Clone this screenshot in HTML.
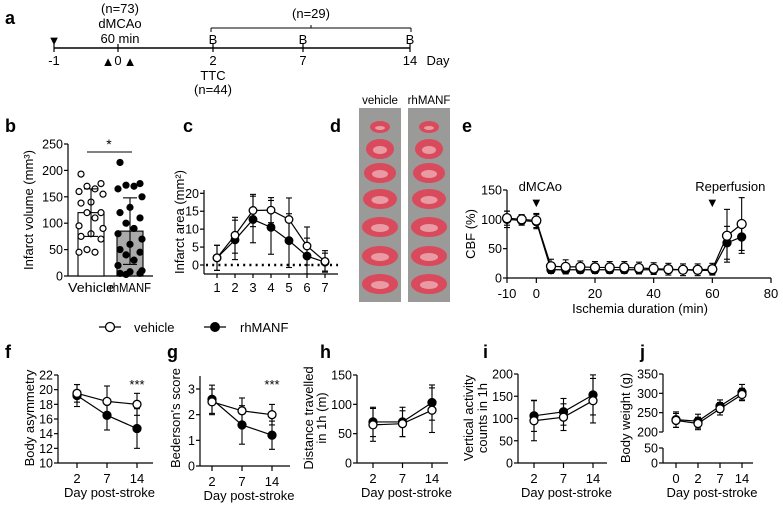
<!DOCTYPE html>
<html><head><meta charset="utf-8"><style>
html,body{margin:0;padding:0;background:#fff}
svg{display:block;font-family:"Liberation Sans",Arial,sans-serif}
</style></head><body>
<svg id="fig" width="783" height="507" viewBox="0 0 783 507" xmlns="http://www.w3.org/2000/svg"></svg>
<script>
// ---------- data ----------
const bCats = ["Vehicle","rhMANF"];
const bMeans = [120, 85];
const bSD = [45, 63];
const bVehPts = [193,175,170,165,160,155,140,138,120,120,110,95,90,80,75,70,50,45,45];
const bRhPts = [215,175,172,170,165,150,130,120,110,100,90,80,70,60,50,45,40,30,20,10,8,5,5,3];

const cCats = [1,2,3,4,5,6,7];
const cVeh = [2,8.3,15.2,15.3,12.7,5.3,1];
const cVehErr = [3.5,5,4.5,3.5,6,5.3,3];
const cRh = [2,7,12.7,10.5,6.8,2.5,0.8];
const cRhErr = [3.5,5.5,6.5,7.5,7.5,5,2.5];
const cTicks = [0,5,10,15,20];

const eTimes = [-10,-5,0,5,10,15,20,25,30,35,40,45,50,55,60,65,70];
const eVeh = [102,100,98,20,19,19,18,18,18,17,16,15,14,14,15,72,92];
const eVehErr = [12,8,12,12,12,10,10,10,10,10,10,10,10,10,10,45,45];
const eRh = [100,98,96,14,14,14,14,14,14,14,14,14,14,13,13,60,70];
const eRhErr = [14,8,12,6,6,6,6,6,6,6,6,6,6,6,6,28,28];
const eTicks = [-10,0,20,40,60,80];
const eYTicks = [0,50,100,150];

const dayCats = ["2","7","14"];
const fVeh = [19.5,18.4,18.0], fVehErr=[1.2,2.1,1.5];
const fRh = [19.2,16.5,14.7], fRhErr=[1.5,2.0,2.7];
const fTicks = [10,12,14,16,18,20,22];
const gVeh = [2.5,2.15,2.0], gVehErr=[0.5,0.5,0.4];
const gRh = [2.6,1.6,1.2], gRhErr=[0.55,0.75,0.55];
const gTicks = [0,1,2,3];
const hVeh = [65,67,90], hVehErr=[28,22,38];
const hRh = [70,70,103], hRhErr=[25,25,30];
const hTicks = [0,50,100,150];
const iVeh = [95,103,140], iVehErr=[45,30,50];
const iRh = [106,115,153], iRhErr=[35,30,45];
const iTicks = [0,50,100,150,200];
const jCats = ["0","2","7","14"];
const jVeh = [230,222,260,297], jVehErr=[18,16,16,16];
const jRh = [232,228,267,303], jRhErr=[20,18,16,20];
const jTicksUp = [200,250,300,350];
const jTicksLow = [0,50];

// ---------- helpers ----------
const S = document.getElementById('fig');
const NS = 'http://www.w3.org/2000/svg';
function el(tag, attrs, parent){
  const e = document.createElementNS(NS, tag);
  for (const k in attrs) e.setAttribute(k, attrs[k]);
  (parent||S).appendChild(e); return e;
}
function grp(name){
  const g = el('g', {});
  
  
  return g;
}
function ln(g,x1,y1,x2,y2,w,extra){ return el('line',Object.assign({x1,y1,x2,y2,stroke:'#000','stroke-width':w||1.2},extra||{}),g); }
function tx(g,x,y,s,o){
  o=o||{};
  const t = el('text',{x,y,'font-size':o.fs||13,'text-anchor':o.anchor||'middle','font-weight':o.bold?'bold':'normal',fill:'#000'},g);
  if(o.len){ t.setAttribute('textLength',o.len); t.setAttribute('lengthAdjust','spacingAndGlyphs'); }
  if(o.rot) t.setAttribute('transform','rotate(-90 '+x+' '+y+')');
  t.textContent = s; return t;
}
function lin(d0,d1,r0,r1){ return v => r0 + (v-d0)/(d1-d0)*(r1-r0); }
function label(ch,x,y){
  const g = grp('panel-label-'+ch);
  tx(g,x,y,ch,{fs:18,bold:true,anchor:'start'});
}
function errbar(g,x,y0,y1,cap){ ln(g,x,y0,x,y1,1.1); ln(g,x-cap,y0,x+cap,y0,1.1); ln(g,x-cap,y1,x+cap,y1,1.1); }
function series(g,xs,vals,errs,sy,filled,name,r,cap){
  const sg = el('g',{},g);
  
  
  for(let i=0;i<vals.length;i++) errbar(sg,xs[i],sy(vals[i]-errs[i]),sy(vals[i]+errs[i]),cap||3);
  let d='';
  for(let i=0;i<vals.length;i++) d+=(i?'L':'M')+xs[i]+' '+sy(vals[i]);
  el('path',{d,fill:'none',stroke:'#000','stroke-width':1.2},sg);
  for(let i=0;i<vals.length;i++){
    const c = el('circle',{cx:xs[i],cy:sy(vals[i]),r:r||4,fill:filled?'#000':'#fff',stroke:'#000','stroke-width':1.3},sg);
    
    
  }
}
function yaxis(g,x,sy,ticks,top,bottom,fmt){
  ln(g,x,top,x,bottom,1.2);
  ticks.forEach(t=>{ const y=sy(t); ln(g,x-4,y,x,y,1.2); tx(g,x-5,y+4.5,fmt?fmt(t):String(t),{anchor:'end',fs:12.5}); });
}

// ---------- panel a ----------
(function(){
  label('a',5,24);
  const g = grp('timeline');
  const days=[-1,0,2,7,14], px=[54,118,213,303,410];
  ln(g,54,48,410,48,1.4);
  days.forEach((d,i)=>{ ln(g,px[i],44,px[i],52,1.2); tx(g,px[i],65,String(d)); });
  tx(g,438,65,'Day');
  tx(g,54,45,'▼',{fs:13});
  tx(g,108,66,'▲',{fs:13}); tx(g,130,66,'▲',{fs:13});
  tx(g,120,13,'(n=73)'); tx(g,120,28,'dMCAo'); tx(g,120,43,'60 min');
  [213,303,410].forEach(x=>tx(g,x,44,'B'));
  tx(g,213,80,'TTC'); tx(g,213,94,'(n=44)');
  ln(g,211,28,411,28,1); ln(g,211,28,211,32,1); ln(g,411,28,411,32,1); ln(g,311,25,311,28,1);
  tx(g,311,18,'(n=29)');
})();

// ---------- panel b ----------
(function(){
  label('b',5,132);
  const g = grp('infarct-volume-chart');
  const sy = lin(0,250,276,144);
  yaxis(g,68,sy,[0,50,100,150,200,250],144,276);
  ln(g,68,276,153,276,1.2);
  const cx=[91,130], bw=26, lens=[46,42];
  const fills=['#fff','#aaa'];
  bCats.forEach((c,i)=>{
    const r = el('rect',{x:cx[i]-bw/2,y:sy(bMeans[i]),width:bw,height:276-sy(bMeans[i]),fill:fills[i],stroke:'#000','stroke-width':1.1},g);
    
    
    tx(g,cx[i],292,c,{len:lens[i]});
  });
  const pts=[bVehPts,bRhPts], offs=[-10,10,-4,4,-12,12,0];
  pts.forEach((arr,k)=>{
    arr.forEach((v,i)=>{
      const c=el('circle',{cx:cx[k]+offs[i%offs.length],cy:sy(v),r:3,fill:k?'#000':'#fff',stroke:'#000','stroke-width':1.2},g);
      
      
    });
  });
  bCats.forEach((c,i)=>errbar(g,cx[i],sy(bMeans[i]-bSD[i]),sy(bMeans[i]+bSD[i]),7));
  ln(g,87,152,132,152,1.1); tx(g,109,149,'*',{fs:14});
  tx(g,33,210,'Infarct volume (mm³)',{rot:true});
})();

// ---------- panel c ----------
(function(){
  label('c',183,132);
  const g = grp('infarct-area-chart');
  const sy = lin(0,20,265,193.3);
  const sx = lin(1,7,217,325);
  yaxis(g,204,sy,cTicks,190,274);
  ln(g,204,274,338,274,1.2);
  cCats.forEach(c=>{ ln(g,sx(c),274,sx(c),278,1.2); tx(g,sx(c),292,String(c)); });
  ln(g,206,265,338,265,2.4,{'stroke-dasharray':'2 4.2'});
  const xs = cCats.map(sx);
  series(g,xs,cRh,cRhErr,sy,true,'rhmanf-series',3.8);
  series(g,xs,cVeh,cVehErr,sy,false,'vehicle-series',3.8);
  tx(g,184,222,'Infarct area (mm²)',{rot:true});
})();

// ---------- panel d ----------
(function(){
  label('d',330,132);
  const g = grp('ttc-brain-slices');
  tx(g,380,104,'vehicle',{fs:11.5}); tx(g,429,104,'rhMANF',{fs:11.5});
  const cols=[[359,42],[408,42]];
  cols.forEach(([x,w])=>{
    el('rect',{x,y:108,width:w,height:194,fill:'#9a9a98'},g);
    const ys=[127,149,173,199,227,256,284], ws=[20,28,32,34,36,36,36];
    ys.forEach((y,i)=>{
      el('ellipse',{cx:x+w/2,cy:y,rx:ws[i]/2,ry:i?10:6,fill:'#d94a5c'},g);
      el('ellipse',{cx:x+w/2,cy:y+1,rx:ws[i]/4,ry:i?4:2,fill:'#e99aa2'},g);
    });
  });
})();

// ---------- panel e ----------
(function(){
  label('e',462,132);
  const g = grp('cbf-chart');
  const sy = lin(0,150,278,190);
  const sx = lin(-10,80,507,771);
  yaxis(g,507,sy,eYTicks,190,278);
  ln(g,507,278,771,278,1.2);
  eTicks.forEach(t=>{ ln(g,sx(t),278,sx(t),283,1.2); tx(g,sx(t),298,String(t)); });
  const xs=eTimes.map(sx);
  series(g,xs,eRh,eRhErr,sy,true,'rhmanf-series',4);
  series(g,xs,eVeh,eVehErr,sy,false,'vehicle-series',4.5);
  tx(g,640,313,'Ischemia duration (min)');
  tx(g,475,234,'CBF (%)',{rot:true});
  tx(g,sx(0)+4,191,'dMCAo'); tx(g,sx(0),207,'▼',{fs:13});
  tx(g,sx(60)+18,191,'Reperfusion'); tx(g,sx(60),207,'▼',{fs:13});
})();

// ---------- legend ----------
(function(){
  const g = grp('legend');
  const a=el('g',{},g);  
  ln(a,99,327,121,327,1.2); el('circle',{cx:110,cy:327,r:4.5,fill:'#fff',stroke:'#000','stroke-width':1.3},a);
  tx(a,134,332,'vehicle',{anchor:'start'});
  const b=el('g',{},g);  
  ln(b,204,327,226,327,1.2); el('circle',{cx:215,cy:327,r:4.5,fill:'#000',stroke:'#000'},b);
  tx(b,240,332,'rhMANF',{anchor:'start'});
})();

// ---------- bottom panels ----------
function small(o){
  label(o.letter,o.lx,358);
  const g = grp(o.name);
  const sy = o.sy;
  const xs = o.cats.map((c,i)=>o.x0+i*o.step);
  if(o.broken){
    yaxis(g,o.ax,sy,o.ticks,o.top,o.breakTop);
    yaxis(g,o.ax,sy,o.ticksLow,o.breakLow,o.bottom);
  } else yaxis(g,o.ax,sy,o.ticks,o.top,o.bottom);
  ln(g,o.ax,o.bottom,o.xend,o.bottom,1.2);
  o.cats.forEach((c,i)=>{ ln(g,xs[i],o.bottom,xs[i],o.bottom+5,1.2); tx(g,xs[i],o.bottom+20,c); });
  tx(g,(o.ax+o.xend)/2+4,o.bottom+34,'Day post-stroke');
  series(g,xs,o.rh,o.rhErr,sy,true,'rhmanf-series',4);
  series(g,xs,o.veh,o.vehErr,sy,false,'vehicle-series',4);
  o.titles.forEach((t,i)=>tx(g,o.tx[i],o.tcy,t,{rot:true}));
  if(o.stars) tx(g,xs[2],389,'***',{fs:13});
}
small({letter:'f',lx:5,name:'body-asymmetry-chart',sy:lin(10,22,463,375),cats:dayCats,x0:77,step:30,ax:58,xend:153,top:375,bottom:463,ticks:fTicks,veh:fVeh,vehErr:fVehErr,rh:fRh,rhErr:fRhErr,titles:['Body asymmetry'],tx:[34],tcy:418,stars:true});
small({letter:'g',lx:167,name:'bederson-score-chart',sy:lin(0,3,466,389),cats:dayCats,x0:212,step:30,ax:200,xend:290,top:376,bottom:466,ticks:gTicks,veh:gVeh,vehErr:gVehErr,rh:gRh,rhErr:gRhErr,titles:["Bederson's score"],tx:[180],tcy:418,stars:true});
small({letter:'h',lx:320,name:'distance-travelled-chart',sy:lin(0,150,463,375),cats:dayCats,x0:373,step:29.5,ax:357,xend:448,top:375,bottom:463,ticks:hTicks,veh:hVeh,vehErr:hVehErr,rh:hRh,rhErr:hRhErr,titles:['Distance travelled','in 1h (m)'],tx:[313,326],tcy:418});
small({letter:'i',lx:483,name:'vertical-activity-chart',sy:lin(0,200,463,374),cats:dayCats,x0:534,step:29.5,ax:518,xend:607,top:374,bottom:463,ticks:iTicks,veh:iVeh,vehErr:iVehErr,rh:iRh,rhErr:iRhErr,titles:['Vertical activity','counts in 1h'],tx:[473,487],tcy:418});
(function(){
  const up=lin(200,350,432,374), low=lin(0,50,463,448);
  const sy=v=>v>=150?up(v):low(v);
  small({letter:'j',lx:640,name:'body-weight-chart',sy,cats:jCats,x0:676,step:22,ax:663,xend:753,top:374,bottom:463,broken:true,breakTop:432,breakLow:448,ticks:jTicksUp,ticksLow:jTicksLow,veh:jVeh,vehErr:jVehErr,rh:jRh,rhErr:jRhErr,titles:['Body weight (g)'],tx:[630],tcy:418});
})();
</script>
</body></html>
